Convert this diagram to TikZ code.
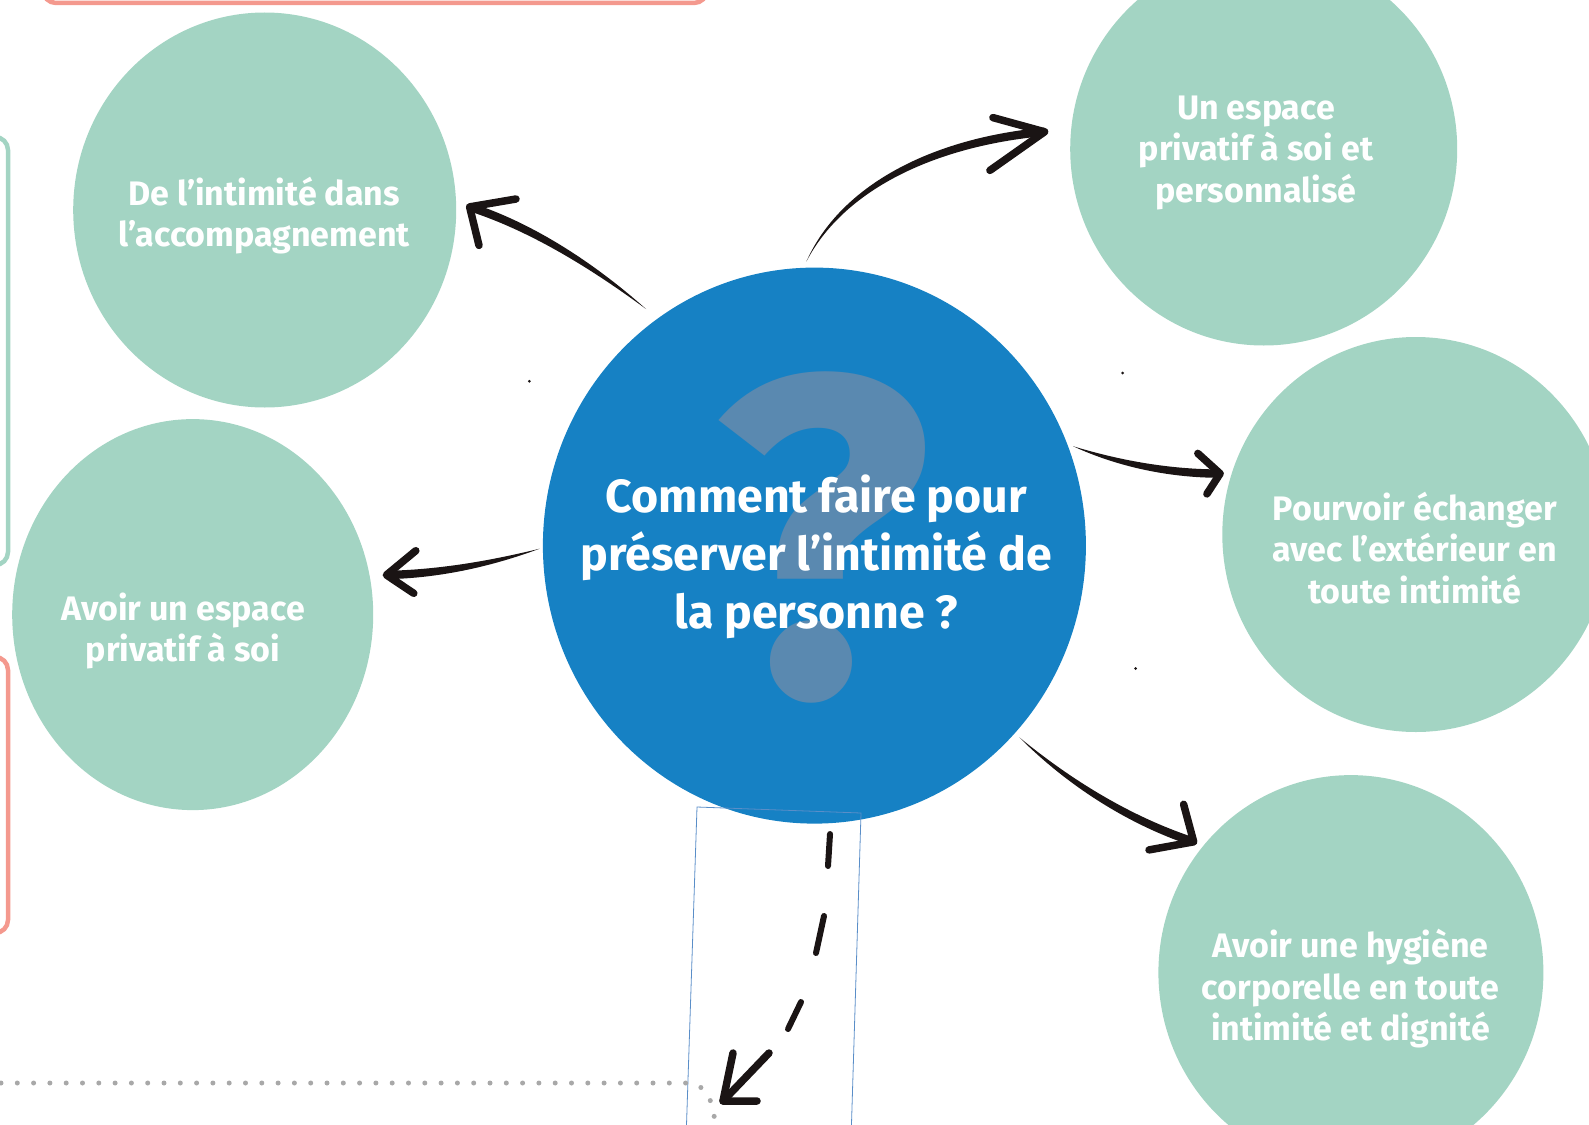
\documentclass[tikz,border=0pt]{standalone}
\usepackage{fontspec}
\setmainfont{Fira Sans}
\usetikzlibrary{shapes.geometric,calc}
\definecolor{tealc}{HTML}{A3D4C3}
\definecolor{bluec}{HTML}{1681C4}
\definecolor{qmarkc}{HTML}{5A89B0}
\definecolor{salmonc}{HTML}{F4998E}
\definecolor{inkc}{HTML}{1A1414}
\definecolor{dotc}{HTML}{A8A8A8}
\definecolor{framec}{HTML}{5A8EC8}
\newcommand{\handarrow}[6]{%
  \fill[inkc] (#1) .. controls ($(#2)!3.2pt!-90:(#3)$) and ($(#3)!4.2pt!-90:(#4)$) .. ($(#4)!4.2pt!90:(#3)$)
     -- ($(#4)!4.2pt!-90:(#3)$) .. controls ($(#3)!4.2pt!90:(#4)$) and ($(#2)!3.2pt!90:(#3)$) .. (#1) -- cycle;
  \draw[barb] (#5) -- (#4) -- (#6);}
\tikzset{
  bubble/.style={ellipse, fill=tealc, inner sep=0pt},
  centre/.style={ellipse, fill=bluec, inner sep=0pt},
  lbl/.style={text=white, align=center, font=\fontsize{34}{41.6}\selectfont\bfseries},
  bigq/.style={text=white, align=center, font=\fontsize{46.5}{57.8}\selectfont\bfseries},
  barb/.style={draw=inkc, line width=7.5pt, line cap=round, line join=round},
  dashseg/.style={draw=inkc, line width=6pt, line cap=round},
  sidebox/.style={line width=4.5pt, rounded corners=13pt},
}
\begin{document}
\begin{tikzpicture}[x=1pt,y=-1pt]
\useasboundingbox (0,0) rectangle (1589,1124);
% side frames
\draw[sidebox, draw=salmonc] (43,-30) rectangle (707,3);
\draw[sidebox, draw=tealc] (-30,137) rectangle (8,565);
\draw[sidebox, draw=salmonc] (-30,657) rectangle (8,933);
% bubbles
\node[bubble, minimum width=383pt, minimum height=395pt] (tl) at (264.7,210) {};
\node[bubble, minimum width=361pt, minimum height=391pt] (l) at (192.7,614.6) {};
\node[bubble, minimum width=387pt, minimum height=393pt] (tr) at (1263.7,149) {};
\node[bubble, minimum width=387pt, minimum height=395pt] (r) at (1415.8,534.5) {};
\node[bubble, minimum width=385pt, minimum height=395pt] (br) at (1350.9,972.6) {};
\node[centre, minimum width=543pt, minimum height=556pt] (c) at (814.4,545.6) {};
\node[text=qmarkc, inner sep=0pt, font=\fontsize{456}{456}\selectfont\bfseries] (qm) at (822,537) {?};
% labels
\node[lbl] (tlt) at (264.2,215.5) {De l’intimité dans\\l’accompagnement};
\node[lbl] (lt) at (183,630.8) {Avoir un espace\\privatif à soi};
\node[lbl] (trt) at (1256,152.8) {Un espace\\privatif à soi et\\personnalisé};
\node[lbl] (rt) at (1414.8,547.7) {Pourvoir échanger\\avec l’extérieur en\\toute intimité};
\node[lbl] (brt) at (1350.4,988.8) {Avoir une hygiène\\corporelle en toute\\intimité et dignité};
\node[bigq] (ct) at (816.4,556.8) {Comment faire pour\\préserver l’intimité de\\la personne ?};
% thin frame
\draw[framec, line width=0.8pt] (697,807) -- (861,813) -- (851,1140) -- (686,1140) -- cycle;
% dotted line
\draw[dotc, line width=5pt, line cap=round, dash pattern=on 0pt off 16.3pt]
  (1,1083) -- (690,1083) .. controls (705,1085) and (715,1100) .. (715,1130);
% arrows
\coordinate (aS) at (646,309); \coordinate (aC1) at (593,266); \coordinate (aC2) at (532,227);
\coordinate (aT) at (469.6,206.9); \coordinate (ab1) at (516,199); \coordinate (ab2) at (479,245.4);
\handarrow{aS}{aC1}{aC2}{aT}{ab1}{ab2}
\coordinate (bS) at (539.6,548.7); \coordinate (bC1) at (486.8,564.9); \coordinate (bC2) at (436.1,574);
\coordinate (bT) at (386.4,575); \coordinate (bb1) at (415.8,550.7); \coordinate (bb2) at (413.8,593.3);
\handarrow{bS}{bC1}{bC2}{bT}{bb1}{bb2}
\coordinate (cS) at (806.3,261.7); \coordinate (cC1) at (841.8,187.6); \coordinate (cC2) at (933,142);
\coordinate (cT) at (1044.6,131.8); \coordinate (cb1) at (992.9,117.6); \coordinate (cb2) at (989.9,170.4);
\handarrow{cS}{cC1}{cC2}{cT}{cb1}{cb2}
\coordinate (dS) at (1073,446.2); \coordinate (dC1) at (1115.6,462.5); \coordinate (dC2) at (1166.3,473.6);
\coordinate (dT) at (1220.1,473.6); \coordinate (db1) at (1197.8,453.4); \coordinate (db2) at (1206.9,493.9);
\handarrow{dS}{dC1}{dC2}{dT}{db1}{db2}
\coordinate (eS) at (1019.3,737.3); \coordinate (eC1) at (1064.9,778.9); \coordinate (eC2) at (1125.6,819.5);
\coordinate (eT) at (1193.7,841.8); \coordinate (eb1) at (1183.6,804.3); \coordinate (eb2) at (1149,849.9);
\handarrow{eS}{eC1}{eC2}{eT}{eb1}{eb2}
% dashed arrow
\coordinate (f1) at (830,834); \coordinate (f2) at (828,866);
\coordinate (f3) at (824,916); \coordinate (f4) at (816,953);
\coordinate (f5) at (801,1002); \coordinate (f6) at (788,1029);
\coordinate (fS) at (769,1053); \coordinate (fT) at (723,1101);
\coordinate (fb1) at (733,1053); \coordinate (fb2) at (757,1101);
\draw[dashseg] (f1) -- (f2);
\draw[dashseg] (f3) -- (f4);
\draw[dashseg] (f5) -- (f6);
\draw[barb] (fS) -- (fT);
\draw[barb] (fb1) -- (fT) -- (fb2);
% specks
\fill[inkc] (529.4,381.3) circle (1.5pt);
\fill[inkc] (1122.7,373) circle (1.5pt);
\fill[inkc] (1135.5,668.5) circle (1.5pt);
\end{tikzpicture}
\end{document}
